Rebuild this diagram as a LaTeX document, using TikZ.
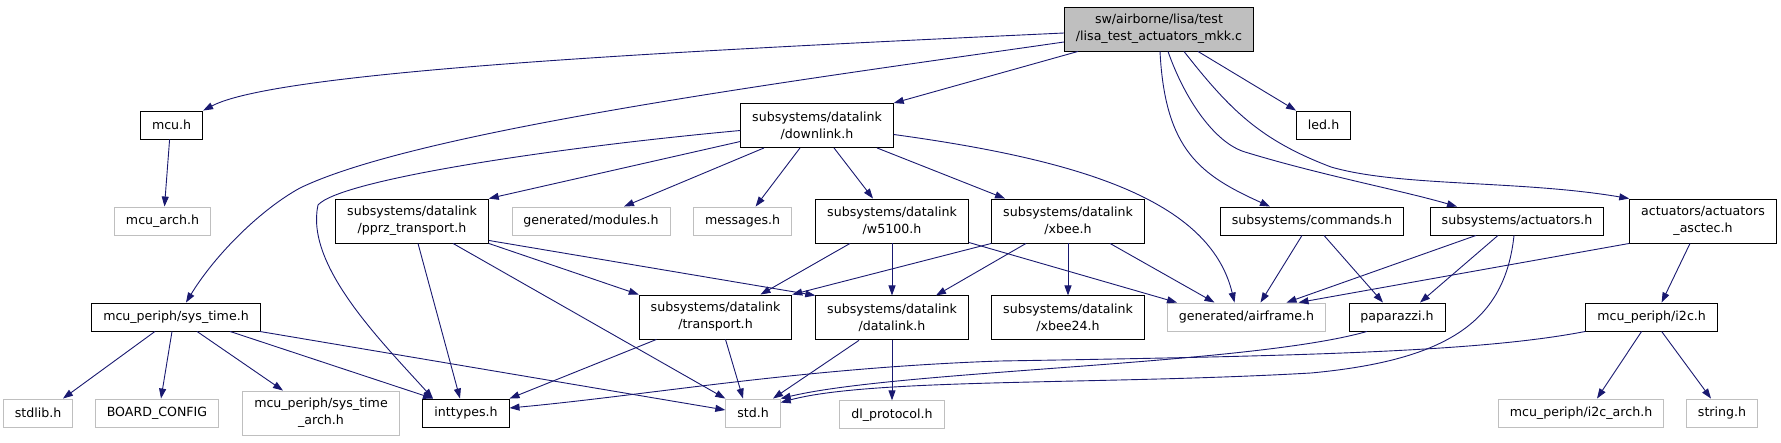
\documentclass[tikz,border=0pt]{standalone}
\usepackage{fontspec}
\setmainfont{DejaVu Sans}
\usepackage{tikz}
\usetikzlibrary{arrows.meta, positioning}
\definecolor{edgeblue}{HTML}{191970}
\definecolor{lightgrey}{HTML}{BFBFBF}
\tikzset{
  header/.style={rectangle, draw=black, line width=0.9pt, inner xsep=11.5pt, inner ysep=0pt, minimum height=28pt, align=center, font=\fontsize{12.6}{17}\selectfont},
  external/.style={header, draw=lightgrey},
  mainfile/.style={header, fill=lightgrey},
  twoline/.style={minimum height=44pt},
  arrow/.style={edgeblue, line width=0.9pt, -{Triangle[length=10pt,width=7pt]}}
}

\begin{document}
\begin{tikzpicture}[x=1pt, y=-1pt]
    \useasboundingbox (0,0) rectangle (1781,443);

    % --- fila 0 y 1 ---
    \node (root) [mainfile, twoline] at (1159,29) {sw/airborne/lisa/test\\/lisa\_test\_actuators\_mkk.c};
    \node (mcu) [header] at (171.6,125) {mcu.h};
    \node (downlink) [header, twoline] at (817,125.5) {subsystems/datalink\\/downlink.h};
    \node (led) [header] at (1323.6,125) {led.h};

    % --- fila 2 ---
    \node (mcuarch) [external] at (162.5,221) {mcu\_arch.h};
    \node (pprz) [header, twoline] at (412,221) {subsystems/datalink\\/pprz\_transport.h};
    \node (modules) [external] at (591,221) {generated/modules.h};
    \node (messages) [external] at (742.6,221) {messages.h};
    \node (w5100) [header, twoline] at (892,221) {subsystems/datalink\\/w5100.h};
    \node (xbee) [header, twoline] at (1068,221) {subsystems/datalink\\/xbee.h};
    \node (commands) [header] at (1312,221) {subsystems/commands.h};
    \node (actuators) [header] at (1517,221) {subsystems/actuators.h};
    \node (asctec) [header, twoline] at (1703,221) {actuators/actuators\\\_asctec.h};

    % --- fila 3 ---
    \node (systime) [header] at (176,317) {mcu\_periph/sys\_time.h};
    \node (transport) [header, twoline] at (715.5,317) {subsystems/datalink\\/transport.h};
    \node (datalink) [header, twoline, below=52pt of w5100] {subsystems/datalink\\/datalink.h};
    \node (xbee24) [header, twoline, below=52pt of xbee] {subsystems/datalink\\/xbee24.h};
    \node (airframe) [external] at (1246.5,317) {generated/airframe.h};
    \node (paparazzi) [header] at (1397,317) {paparazzi.h};
    \node (i2c) [header] at (1651.6,317) {mcu\_periph/i2c.h};

    % --- fila 4 ---
    \node (stdlib) [external] at (38,413) {stdlib.h};
    \node (board) [external] at (157,413) {BOARD\_CONFIG};
    \node (systimearch) [external, twoline] at (321,413) {mcu\_periph/sys\_time\\\_arch.h};
    \node (inttypes) [header] at (466,413) {inttypes.h};
    \node (std) [external] at (753,413) {std.h};
    \node (dlprotocol) [external, below=60pt of datalink] {dl\_protocol.h};
    \node (i2carch) [external] at (1581,413) {mcu\_periph/i2c\_arch.h};
    \node (string) [external] at (1722,413) {string.h};

    % --- desde el fichero principal ---
    \draw [arrow] ([yshift=-4pt]root.west) .. controls (700,50) and (280,70) .. (mcu.north east);
    \draw [arrow] ([yshift=-13pt]root.west) .. controls (800,80) and (420,130) .. (300,188) .. controls (260,210) and (215,255) .. ([xshift=10pt]systime.north);
    \draw [arrow] ([xshift=14pt]root.south west) -- (downlink.north east);
    \draw [arrow] ([xshift=39pt]root.south) -- (led.north west);
    \draw [arrow] ([xshift=1pt]root.south) .. controls (1165,150) and (1200,175) .. ([xshift=-42pt]commands.north);
    \draw [arrow] ([xshift=9pt]root.south) .. controls (1185,100) and (1215,143) .. (1245,152) .. controls (1320,175) and (1400,190) .. ([xshift=-60pt]actuators.north);
    \draw [arrow] ([xshift=25pt]root.south) .. controls (1230,110) and (1260,140) .. (1331,167) .. controls (1400,187) and (1520,180) .. (asctec.north west);

    % --- downlink.h ---
    \draw [arrow] ([yshift=-16pt]downlink.west) -- (pprz.north east);
    \draw [arrow] ([yshift=-5pt]downlink.west) .. controls (550,148) and (340,180) .. (318,205) .. controls (305,265) and (380,340) .. ([xshift=-33pt]inttypes.north);
    \draw [arrow] ([xshift=-53pt]downlink.south) -- ([xshift=33pt]modules.north);
    \draw [arrow] ([xshift=-17pt]downlink.south) -- ([xshift=13pt]messages.north);
    \draw [arrow] ([xshift=17pt]downlink.south) -- ([xshift=-19pt]w5100.north);
    \draw [arrow] ([xshift=60pt]downlink.south) -- ([xshift=-63pt]xbee.north);
    \draw [arrow] ([yshift=-9pt]downlink.east) .. controls (1080,160) and (1210,200) .. ([xshift=-12pt]airframe.north);
    \draw [arrow] ([xshift=-2pt]mcu.south) -- ([xshift=2pt]mcuarch.north);

    % --- sys_time.h ---
    \draw [arrow] ([xshift=-21pt]systime.south) -- ([xshift=25pt]stdlib.north);
    \draw [arrow] ([xshift=-4pt]systime.south) -- ([xshift=4pt]board.north);
    \draw [arrow] ([xshift=21pt]systime.south) -- ([xshift=-38pt]systimearch.north);
    \draw [arrow] ([xshift=54pt]systime.south) -- ([xshift=-33pt]inttypes.north);
    \draw [arrow] ([xshift=-1pt]systime.south east) -- ([yshift=3pt]std.west);

    % --- transportes ---
    \draw [arrow] ([xshift=6pt]pprz.south) -- ([xshift=-6pt]inttypes.north);
    \draw [arrow] ([xshift=41pt]pprz.south) -- (std.north west);
    \draw [arrow] (pprz.south east) -- (transport.north west);
    \draw [arrow] ([yshift=3pt]pprz.south east) -- (datalink.north west);
    \draw [arrow] ([xshift=-42pt]w5100.south) -- ([xshift=45pt]transport.north);
    \draw [arrow] (w5100.south) -- (datalink.north);
    \draw [arrow] ([yshift=1pt]w5100.south east) -- ([xshift=10pt]airframe.north west);
    \draw [arrow] (xbee.south west) -- (transport.north east);
    \draw [arrow] ([xshift=-42pt]xbee.south) -- ([xshift=44pt]datalink.north);
    \draw [arrow] (xbee.south) -- (xbee24.north);
    \draw [arrow] ([xshift=42pt]xbee.south) -- ([xshift=-32pt]airframe.north);
    \draw [arrow] ([xshift=-59pt]transport.south) -- (inttypes.north east);
    \draw [arrow] ([xshift=10pt]transport.south) -- ([xshift=-10pt]std.north);
    \draw [arrow] ([xshift=-33pt]datalink.south) -- ([xshift=20pt]std.north);
    \draw [arrow] (datalink.south) -- (dlprotocol.north);

    % --- comandos y actuadores ---
    \draw [arrow] ([xshift=-10pt]commands.south) -- ([xshift=14pt]airframe.north);
    \draw [arrow] ([xshift=12pt]commands.south) -- ([xshift=-14pt]paparazzi.north);
    \draw [arrow] ([xshift=-41pt]actuators.south) -- ([xshift=40pt]airframe.north);
    \draw [arrow] ([xshift=-19pt]actuators.south) -- ([xshift=23pt]paparazzi.north);
    \draw [arrow] ([xshift=-3pt]actuators.south) .. controls (1505,320) and (1450,360) .. (1311,373) .. controls (1100,385) and (870,378) .. ([yshift=-4pt]std.north east);
    \draw [arrow] ([xshift=-30pt]paparazzi.south) .. controls (1250,365) and (900,370) .. (std.north east);
    \draw [arrow] (asctec.south west) -- ([xshift=52pt]airframe.north);
    \draw [arrow] ([xshift=-13pt]asctec.south) -- ([xshift=10pt]i2c.north);

    % --- i2c.h ---
    \draw [arrow] (i2c.south west) .. controls (1480,352) and (1300,356) .. (1000,361) .. controls (800,368) and (650,395) .. ([yshift=5pt]inttypes.east);
    \draw [arrow] ([xshift=-10pt]i2c.south) -- ([xshift=16pt]i2carch.north);
    \draw [arrow] ([xshift=10pt]i2c.south) -- ([xshift=-11pt]string.north);
\end{tikzpicture}
\end{document}
